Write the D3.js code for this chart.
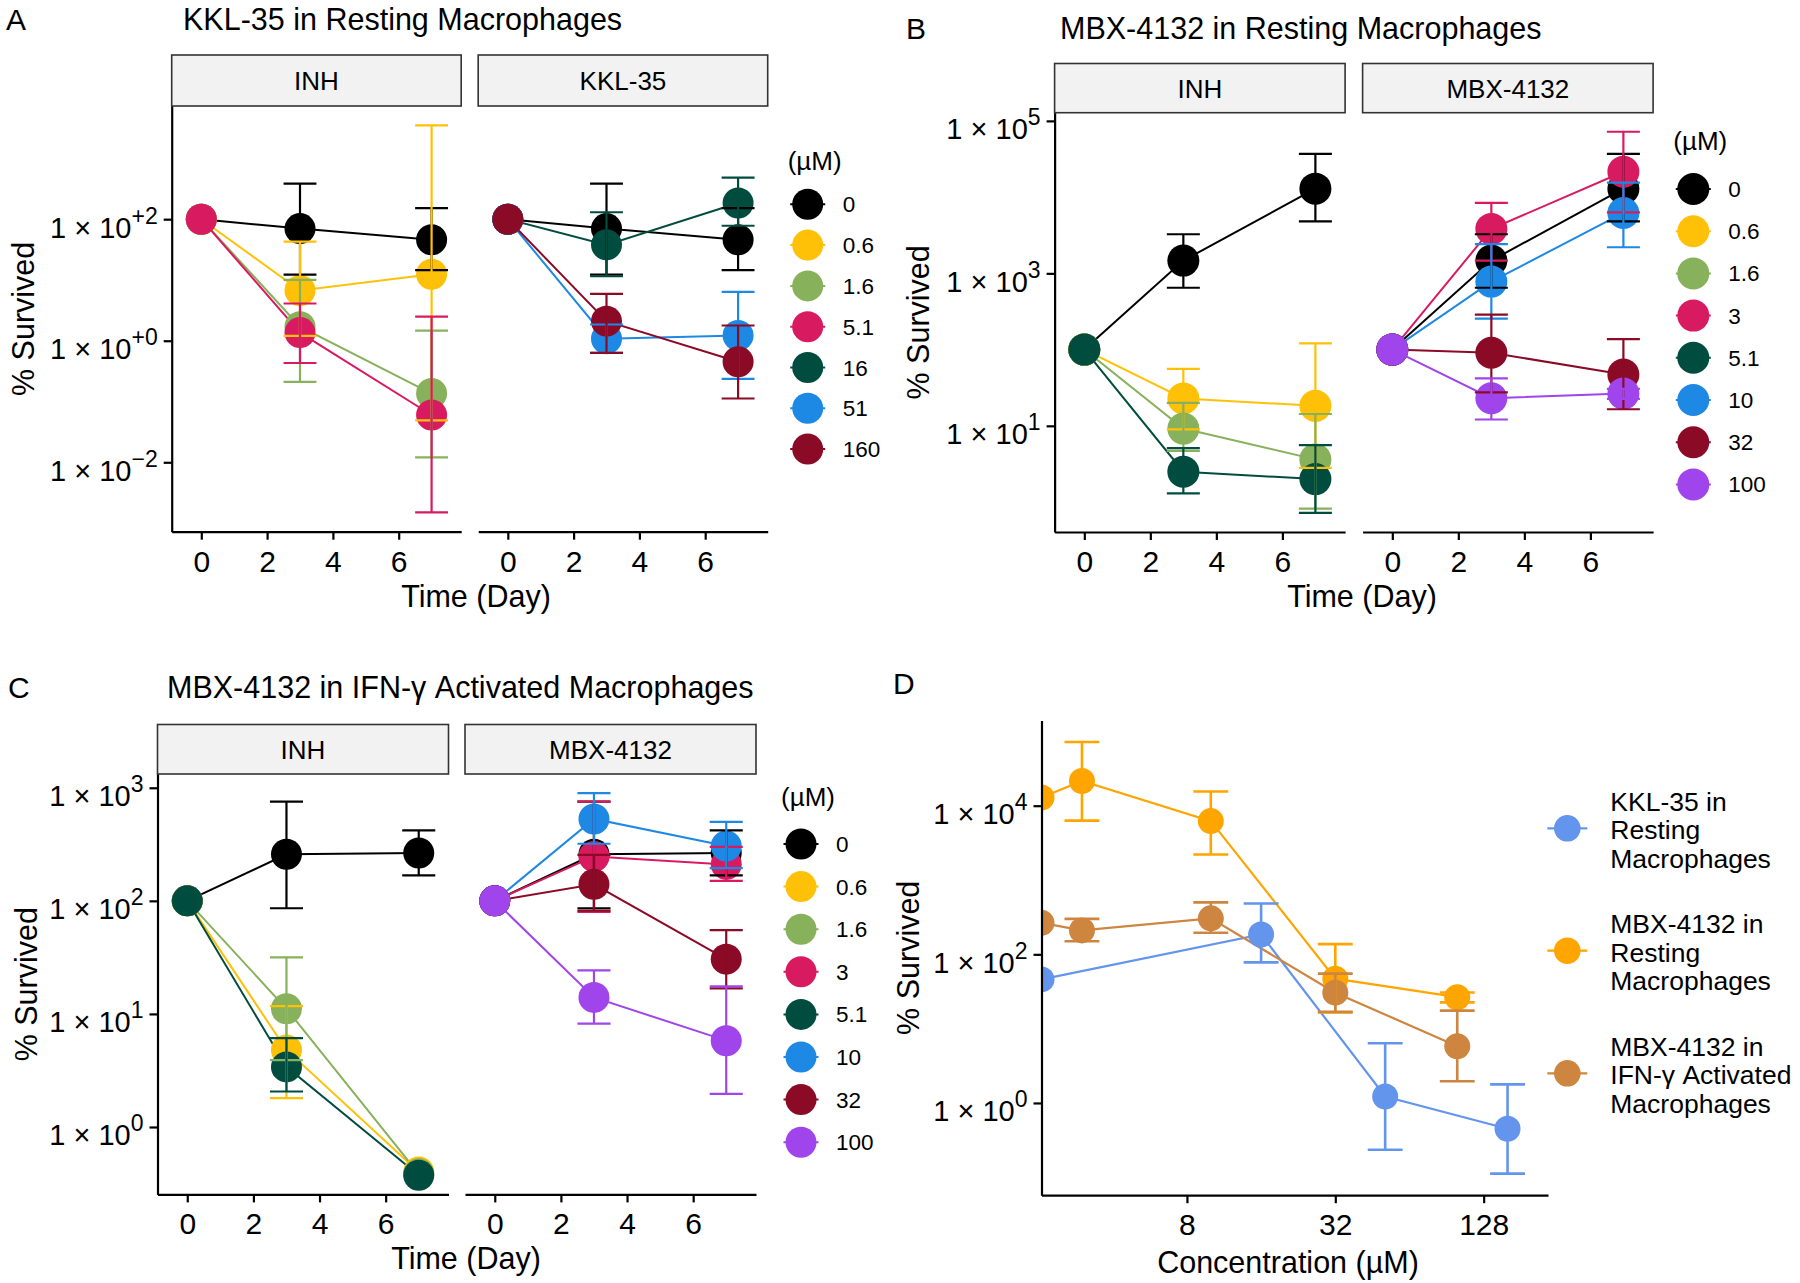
<!DOCTYPE html>
<html>
<head>
<meta charset="utf-8">
<script src="https://cdnjs.cloudflare.com/ajax/libs/d3/7.8.5/d3.min.js"></script>
<style>
  body { margin: 0; background: #fff; }
  svg text { font-family: "Liberation Sans", Arial, sans-serif; fill: #000; }
</style>
</head>
<body>
<svg id="fig" width="1800" height="1283"></svg>
<script>
// ---- data (percent survived; mean, lower and upper error bar) ----
const days = [0, 3, 7];
const dayTicks = [0, 2, 4, 6];

// A: KKL-35 in resting macrophages
const aInhConc = ["0", "0.6", "1.6", "5.1"];
const aInhMean = [[100, 70, 46], [100, 6.7, 12.4], [100, 1.7, 0.135], [100, 1.36, 0.06]];
const aInhLow  = [[null, 12.2, 14.5], [null, 1.2, 0.049], [null, 0.21, 0.012], [null, 0.43, 0.0015]];
const aInhHigh = [[null, 384, 152], [null, 42.8, 3500], [null, 10, 1.47], [null, 4.1, 2.5]];
const aKklConc = ["0", "16", "51", "160"];
const aKklMean = [[100, 70, 46], [100, 37.8, 185], [100, 1.08, 1.22], [100, 2.1, 0.45]];
const aKklLow  = [[null, 12.2, 14.5], [null, 11.5, 78], [null, 0.63, 0.235], [null, 0.63, 0.112]];
const aKklHigh = [[null, 384, 152], [null, 130, 482], [null, 1.85, 6.35], [null, 5.9, 1.78]];
const aLegend = ["0", "0.6", "1.6", "5.1", "16", "51", "160"];
const aTicksY = [0.01, 1, 100];

// B: MBX-4132 in resting macrophages
const bInhConc = ["0", "0.6", "1.6", "5.1"];
const bInhMean = [[100, 1470, 12900], [100, 22.9, 18.3], [100, 9.2, 3.63], [100, 2.5, 2.0]];
const bInhLow  = [[null, 647, 4800], [null, 9, 2.8], [null, 4.7, 0.82], [null, 1.3, 0.72]];
const bInhHigh = [[null, 3260, 37000], [null, 56, 121], [null, 20, 14.3], [null, 5.1, 5.6]];
const bMbxConc = ["0", "3", "10", "32", "100"];
const bMbxMean = [[100, 1470, 12900], [100, 3830, 21500], [100, 780, 6200], [100, 91, 47], [100, 23, 26.5]];
const bMbxLow  = [[null, 647, 4800], [null, 1470, 6300], [null, 255, 2200], [null, 27.5, 16.5], [null, 12.1, 22.6]];
const bMbxHigh = [[null, 3260, 37000], [null, 8380, 72000], [null, 2420, 15500], [null, 288, 137], [null, 42, 30.6]];
const bLegend = ["0", "0.6", "1.6", "3", "5.1", "10", "32", "100"];
const bTicksY = [10, 1000, 100000];

// C: MBX-4132 in IFN-gamma activated macrophages
const cInhConc = ["0", "0.6", "1.6", "5.1"];
const cInhMean = [[100, 258, 265], [100, 4.8, 0.40], [100, 11.1, 0.385], [100, 3.4, 0.374]];
const cInhLow  = [[null, 86, 168], [null, 1.8, null], [null, 3.9, null], [null, 2.06, null]];
const cInhHigh = [[null, 755, 420], [null, 11.7, null], [null, 31.6, null], [null, 6.1, null]];
const cMbxConc = ["0", "3", "10", "32", "100"];
const cMbxMean = [[100, 258, 265], [100, 247, 210], [100, 530, 305], [100, 140, 30.5], [100, 14, 5.8]];
const cMbxLow  = [[null, 86, 168], [null, 80, 150], [null, 320, 195], [null, 82, 16.8], [null, 8.2, 1.96]];
const cMbxHigh = [[null, 755, 420], [null, 755, 300], [null, 897, 500], [null, 255, 55], [null, 24.3, 17.5]];
const cLegend = ["0", "0.6", "1.6", "3", "5.1", "10", "32", "100"];
const cTicksY = [1, 10, 100, 1000];

// D: day 7 survival vs concentration (0 uM sits at the axis edge on the log scale)
const dLegend = [["KKL-35 in", "Resting", "Macrophages"],
                 ["MBX-4132 in", "Resting", "Macrophages"],
                 ["MBX-4132 in", "IFN-γ Activated", "Macrophages"]];
const dTicksX = [8, 32, 128];
const dTicksY = [1, 100, 10000];

// ---- styles ----
const aColors = ["#000000", "#FFC107", "#87B15A", "#D81B60", "#004D40", "#1E88E5", "#8B0A26"];
const bColors = ["#000000", "#FFC107", "#87B15A", "#D81B60", "#004D40", "#1E88E5", "#8B0A26", "#A044EB"];
const dColors = ["#6495ED", "#FFA500", "#CD853F"];

const svg = d3.select("#fig");
svg.append("rect").attr("width", 1800).attr("height", 1283).attr("fill", "#fff");

function styleAxis(ag) {
  ag.attr("font-size", null).attr("font-family", null);
  ag.select(".domain").attr("stroke", "#000").attr("stroke-width", 2.2);
  ag.selectAll(".tick line").attr("stroke", "#000").attr("stroke-width", 2.2);
}

// "1 x 10^n" tick labels
function powLabels(ag, showPlus, dx) {
  ag.selectAll(".tick text").each(function (d) {
    const e = Math.round(Math.log10(d));
    const t = d3.select(this).attr("x", dx).attr("y", 0).attr("dy", null).text(null)
      .style("font-size", "29px");
    t.append("tspan").attr("dy", 18).text("1 × 10");
    t.append("tspan").attr("dy", -14).style("font-size", "23px")
      .text(e < 0 ? "−" + (-e) : (showPlus ? "+" + e : String(e)));
  });
}

function errPath(cx, y0, y1, hw) {
  return `M${cx - hw},${y1}H${cx + hw}M${cx},${y1}V${y0}M${cx - hw},${y0}H${cx + hw}`;
}

function logPad(vals) {
  const [lo, hi] = d3.extent(vals);
  const pad = (hi - lo) * 0.05;
  return [lo - pad, hi + pad];
}

function facetPanel(p) {
  const g = svg.append("g");

  // shared y scale, ggplot-like 5% expansion in log space
  const vals = [];
  p.facets.forEach(f => [f.mean, f.low, f.high].forEach(m =>
    m.forEach(r => r.forEach(v => { if (v != null) vals.push(Math.log10(v)); }))));
  const yl = logPad(vals);
  const y = d3.scaleLog().domain([10 ** yl[0], 10 ** yl[1]]).range([p.bottom, p.top]);

  // x range covers error bar width (1 day) plus 5%
  const tlo = d3.min(days) - 0.5, thi = d3.max(days) + 0.5, tpad = (thi - tlo) * 0.05;
  const color = c => p.colors[p.legend.indexOf(c)];

  p.facets.forEach((f, fi) => {
    const x0 = p.left + fi * (p.facetW + p.gap);
    const x = d3.scaleLinear().domain([tlo - tpad, thi + tpad]).range([x0, x0 + p.facetW]);
    const fg = g.append("g");

    // strip
    fg.append("rect")
      .attr("x", x0).attr("y", p.stripTop)
      .attr("width", p.facetW).attr("height", p.top - p.stripTop)
      .attr("fill", "#f2f2f2").attr("stroke", "#333").attr("stroke-width", 1.6);
    fg.append("text")
      .attr("x", x0 + p.facetW / 2).attr("y", (p.stripTop + p.top) / 2 + 9.5)
      .attr("text-anchor", "middle").style("font-size", "26px")
      .text(f.label);

    // axes
    const xa = fg.append("g").attr("transform", `translate(0,${p.bottom})`)
      .call(d3.axisBottom(x).tickValues(dayTicks).tickSize(8).tickSizeOuter(0));
    styleAxis(xa);
    xa.selectAll(".tick text").attr("y", 40).attr("dy", null).style("font-size", "30px");

    if (fi === 0) {
      const ya = fg.append("g").attr("transform", `translate(${x0},0)`)
        .call(d3.axisLeft(y).tickValues(p.yTicks).tickSize(8).tickSizeOuter(0));
      styleAxis(ya);
      powLabels(ya, p.plus, -14);
    }

    const series = f.conc.map((c, i) => ({
      c,
      pts: days.map((t, j) => ({ t, v: f.mean[i][j], lo: f.low[i][j], hi: f.high[i][j] }))
    }));

    const line = d3.line().x(d => x(d.t)).y(d => y(d.v));
    fg.append("g").selectAll("path").data(series).join("path")
      .attr("d", s => line(s.pts))
      .attr("fill", "none").attr("stroke", s => color(s.c)).attr("stroke-width", 2);

    fg.append("g").selectAll("g").data(series).join("g")
      .attr("fill", s => color(s.c))
      .selectAll("circle").data(s => s.pts).join("circle")
      .attr("cx", d => x(d.t)).attr("cy", d => y(d.v)).attr("r", p.r);

    const hw = (x(1) - x(0)) / 2;
    fg.append("g").selectAll("path").data(series).join("path")
      .attr("d", s => s.pts.filter(d => d.lo != null)
        .map(d => errPath(x(d.t), y(d.lo), y(d.hi), hw)).join(""))
      .attr("fill", "none").attr("stroke", s => color(s.c)).attr("stroke-width", 2.2);
  });

  // panel letter, title, axis titles
  g.append("text").attr("x", p.letterX).attr("y", p.titleY).style("font-size", "30px").text(p.letter);
  g.append("text").attr("x", p.titleX).attr("y", p.titleY).style("font-size", "30.5px").text(p.title);
  g.append("text").attr("transform", `translate(${p.yTitleX},${(p.top + p.bottom) / 2}) rotate(-90)`)
    .attr("text-anchor", "middle").style("font-size", "30.5px").text("% Survived");
  g.append("text").attr("x", p.xTitleX).attr("y", p.bottom + 75)
    .attr("text-anchor", "middle").style("font-size", "30.5px").text("Time (Day)");

  // legend
  const lg = g.append("g");
  lg.append("text").attr("x", p.lg.x - 20).attr("y", p.lg.titleY).style("font-size", "26px").text("(µM)");
  const items = lg.selectAll("g.item").data(p.legend).join("g")
    .attr("transform", (d, i) => `translate(${p.lg.x},${p.lg.y0 + i * p.lg.dy})`);
  items.append("line").attr("x1", -17.5).attr("x2", 17.5)
    .attr("stroke", (d, i) => p.colors[i]).attr("stroke-width", 2);
  items.append("circle").attr("r", p.r).attr("fill", (d, i) => p.colors[i]);
  items.append("text").attr("x", 35).attr("y", 8).style("font-size", "22.5px").text(d => d);
}

facetPanel({
  letter: "A", letterX: 6, title: "KKL-35 in Resting Macrophages", titleX: 183, titleY: 29.5,
  left: 171.7, facetW: 289.5, gap: 17, stripTop: 55, top: 106, bottom: 531.7,
  yTicks: aTicksY, plus: true, r: 15.5, yTitleX: 34, xTitleX: 476,
  legend: aLegend, colors: aColors,
  lg: { x: 807.7, titleY: 169.7, y0: 204.3, dy: 40.8 },
  facets: [
    { label: "INH", conc: aInhConc, mean: aInhMean, low: aInhLow, high: aInhHigh },
    { label: "KKL-35", conc: aKklConc, mean: aKklMean, low: aKklLow, high: aKklHigh }
  ]
});

facetPanel({
  letter: "B", letterX: 906, title: "MBX-4132 in Resting Macrophages", titleX: 1060, titleY: 39,
  left: 1054.6, facetW: 290.5, gap: 17.5, stripTop: 63.5, top: 112.7, bottom: 532,
  yTicks: bTicksY, plus: false, r: 16, yTitleX: 929, xTitleX: 1362,
  legend: bLegend, colors: bColors,
  lg: { x: 1693.3, titleY: 150, y0: 189, dy: 42.2 },
  facets: [
    { label: "INH", conc: bInhConc, mean: bInhMean, low: bInhLow, high: bInhHigh },
    { label: "MBX-4132", conc: bMbxConc, mean: bMbxMean, low: bMbxLow, high: bMbxHigh }
  ]
});

facetPanel({
  letter: "C", letterX: 8, title: "MBX-4132 in IFN-γ Activated Macrophages", titleX: 167, titleY: 697.7,
  left: 157.5, facetW: 291, gap: 16.5, stripTop: 724.5, top: 774, bottom: 1194.4,
  yTicks: cTicksY, plus: false, r: 15.5, yTitleX: 37, xTitleX: 466,
  legend: cLegend, colors: bColors,
  lg: { x: 801, titleY: 806, y0: 844, dy: 42.6 },
  facets: [
    { label: "INH", conc: cInhConc, mean: cInhMean, low: cInhLow, high: cInhHigh },
    { label: "MBX-4132", conc: cMbxConc, mean: cMbxMean, low: cMbxLow, high: cMbxHigh }
  ]
});

// ---- panel D ----
(function panelD() {
  const L = 1041.5, R = 1548, T = 720.4, B = 1195.2;
  const g = svg.append("g");

  // day-7 column of each treatment facet
  const sources = [
    { conc: aKklConc, mean: aKklMean, low: aKklLow, high: aKklHigh },
    { conc: bMbxConc, mean: bMbxMean, low: bMbxLow, high: bMbxHigh },
    { conc: cMbxConc, mean: cMbxMean, low: cMbxLow, high: cMbxHigh }
  ];
  const groups = sources.map((s, gi) => ({
    gi,
    pts: s.conc.map((c, i) => ({ c: +c, v: s.mean[i][2], lo: s.low[i][2], hi: s.high[i][2] }))
  }));

  const ebw = 0.235; // half error-bar width in log2 units
  const lx = [];
  groups.forEach(gr => gr.pts.forEach(d => { if (d.c > 0) { lx.push(Math.log2(d.c) - ebw, Math.log2(d.c) + ebw); } }));
  const xl = logPad(lx);
  const x = d3.scaleLog().base(2).domain([2 ** xl[0], 2 ** xl[1]]).range([L, R]);

  const ly = [];
  groups.forEach(gr => gr.pts.forEach(d => [d.v, d.lo, d.hi].forEach(v => { if (v != null) ly.push(Math.log10(v)); })));
  const yl = logPad(ly);
  const y = d3.scaleLog().domain([10 ** yl[0], 10 ** yl[1]]).range([B, T]);

  const xp = c => c > 0 ? x(c) : L; // 0 uM -> -Inf -> panel edge

  svg.append("clipPath").attr("id", "clipD")
    .append("rect").attr("x", L).attr("y", T).attr("width", R - L).attr("height", B - T);
  const pg = g.append("g").attr("clip-path", "url(#clipD)");

  const line = d3.line().x(d => xp(d.c)).y(d => y(d.v));
  pg.append("g").selectAll("path").data(groups).join("path")
    .attr("d", gr => line(gr.pts)).attr("fill", "none")
    .attr("stroke", gr => dColors[gr.gi]).attr("stroke-width", 2.2);
  pg.append("g").selectAll("g").data(groups).join("g")
    .attr("fill", gr => dColors[gr.gi])
    .selectAll("circle").data(gr => gr.pts).join("circle")
    .attr("cx", d => xp(d.c)).attr("cy", d => y(d.v)).attr("r", 13);
  pg.append("g").selectAll("path").data(groups).join("path")
    .attr("d", gr => gr.pts.filter(d => d.c > 0 && d.lo != null).map(d => {
      const hw = (x(2 ** (Math.log2(d.c) + ebw)) - x(2 ** (Math.log2(d.c) - ebw))) / 2;
      return errPath(x(d.c), y(d.lo), y(d.hi), hw);
    }).join(""))
    .attr("fill", "none").attr("stroke", gr => dColors[gr.gi]).attr("stroke-width", 2.6);

  const xa = g.append("g").attr("transform", `translate(0,${B})`)
    .call(d3.axisBottom(x).tickValues(dTicksX).tickFormat(d3.format("d")).tickSize(8).tickSizeOuter(0));
  styleAxis(xa);
  xa.selectAll(".tick text").attr("y", 40).attr("dy", null).style("font-size", "30px");

  const ya = g.append("g").attr("transform", `translate(${L},0)`)
    .call(d3.axisLeft(y).tickValues(dTicksY).tickSize(8).tickSizeOuter(0));
  styleAxis(ya);
  powLabels(ya, false, -14);

  g.append("text").attr("x", 893).attr("y", 694).style("font-size", "30px").text("D");
  g.append("text").attr("transform", `translate(919,${(T + B) / 2}) rotate(-90)`)
    .attr("text-anchor", "middle").style("font-size", "30.5px").text("% Survived");
  g.append("text").attr("x", 1288).attr("y", 1272.7)
    .attr("text-anchor", "middle").style("font-size", "30.5px").text("Concentration (µM)");

  // legend
  const legY = [828.3, 950.7, 1073.3];
  const items = g.selectAll("g.dleg").data(dLegend).join("g")
    .attr("transform", (d, i) => `translate(1567.3,${legY[i]})`);
  items.append("line").attr("x1", -20).attr("x2", 20)
    .attr("stroke", (d, i) => dColors[i]).attr("stroke-width", 2.2);
  items.append("circle").attr("r", 13.3).attr("fill", (d, i) => dColors[i]);
  items.append("text").style("font-size", "26.5px")
    .selectAll("tspan").data(d => d).join("tspan")
    .attr("x", 43).attr("y", (d, k) => 11 + (k - 1) * 28.3).text(d => d);
})();
</script>
</body>
</html>
